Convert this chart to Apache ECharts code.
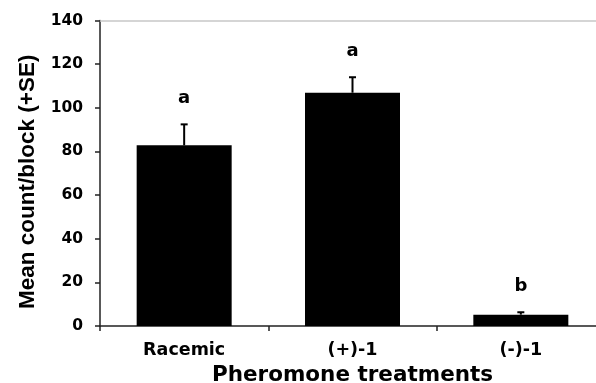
<!DOCTYPE html>
<html>
<head>
<meta charset="utf-8">
<script src="https://cdn.jsdelivr.net/npm/echarts@6/dist/echarts.min.js"></script>
<style>
html,body{margin:0;padding:0;background:#fff;}
#chart{width:596px;height:383px;}
</style>
</head>
<body>
<div id="chart"></div>
<script>
var categories = ['Racemic', '(+)-1', '(-)-1'];
var means = [82.8, 106.9, 5.2];
var se = [9.6, 7.1, 1.1];
var letters = ['a', 'a', 'b'];
var yTicks = [0, 20, 40, 60, 80, 100, 120, 140];

var chart = echarts.init(document.getElementById('chart'), null, {renderer: 'canvas'});

var errData = categories.map(function (c, i) { return [i, means[i], means[i] + se[i], letters[i]]; });

var option = {
  animation: false,
  backgroundColor: '#fff',
  grid: {left: 100, top: 20.5, width: 505, height: 305.5, containLabel: false, outerBoundsMode: 'none'},
  xAxis: [{
    type: 'category',
    data: categories,
    position: 'bottom',
    axisLine: {lineStyle: {color: '#222', width: 1.5}},
    axisTick: {show: true, length: 5, inside: false, lineStyle: {color: '#222', width: 1.5}},
    axisLabel: {margin: 15, color: '#000', fontFamily: 'DejaVu Sans', fontWeight: 'bold', fontSize: 17.5},
    name: 'Pheromone treatments',
    nameLocation: 'middle',
    nameGap: 38,
    nameTextStyle: {color: '#000', fontFamily: 'DejaVu Sans', fontWeight: 'bold', fontSize: 21.5}
  }, {
    type: 'category',
    data: categories,
    position: 'top',
    axisLine: {lineStyle: {color: '#c8c8c8', width: 1.5}},
    axisTick: {show: false},
    axisLabel: {show: false}
  }],
  yAxis: {
    type: 'value',
    min: 0, max: 140, interval: 20,
    axisLine: {show: true, lineStyle: {color: '#222', width: 1.5}},
    axisTick: {show: true, length: 5, lineStyle: {color: '#222', width: 1.5}},
    splitLine: {show: false},
    axisLabel: {margin: 17, color: '#000', fontFamily: 'DejaVu Sans', fontWeight: 'bold', fontSize: 15.5,
      formatter: function (v) { return yTicks.indexOf(v) >= 0 ? String(v) : ''; }},
    name: 'Mean count/block (+SE)',
    nameLocation: 'middle',
    nameGap: 58,
    nameTextStyle: {color: '#000', fontFamily: 'Liberation Sans', fontWeight: 'bold', fontSize: 22.5, padding: [0, 17, 0, 0]}
  },
  series: [{
    type: 'bar',
    data: means,
    barWidth: 95,
    itemStyle: {color: '#000'},
    silent: true
  }, {
    type: 'custom',
    data: errData,
    encode: {x: 0, y: [1, 2]},
    z: 5,
    renderItem: function (params, api) {
      var x = api.coord([api.value(0), api.value(1)])[0];
      var y0 = api.coord([api.value(0), api.value(1)])[1];
      var y1 = api.coord([api.value(0), api.value(2)])[1];
      var st = {stroke: '#000', lineWidth: 2};
      return {
        type: 'group',
        children: [
          {type: 'line', shape: {x1: x, y1: y0, x2: x, y2: y1}, style: st},
          {type: 'line', shape: {x1: x - 3.5, y1: y1, x2: x + 3.5, y2: y1}, style: st},
          {type: 'text', style: {text: api.value(3), x: x, y: y1 - 26, align: 'center', verticalAlign: 'middle',
            fill: '#000', font: 'bold 18px "DejaVu Sans"'}}
        ]
      };
    }
  }]
};
chart.setOption(option);
</script>
</body>
</html>
